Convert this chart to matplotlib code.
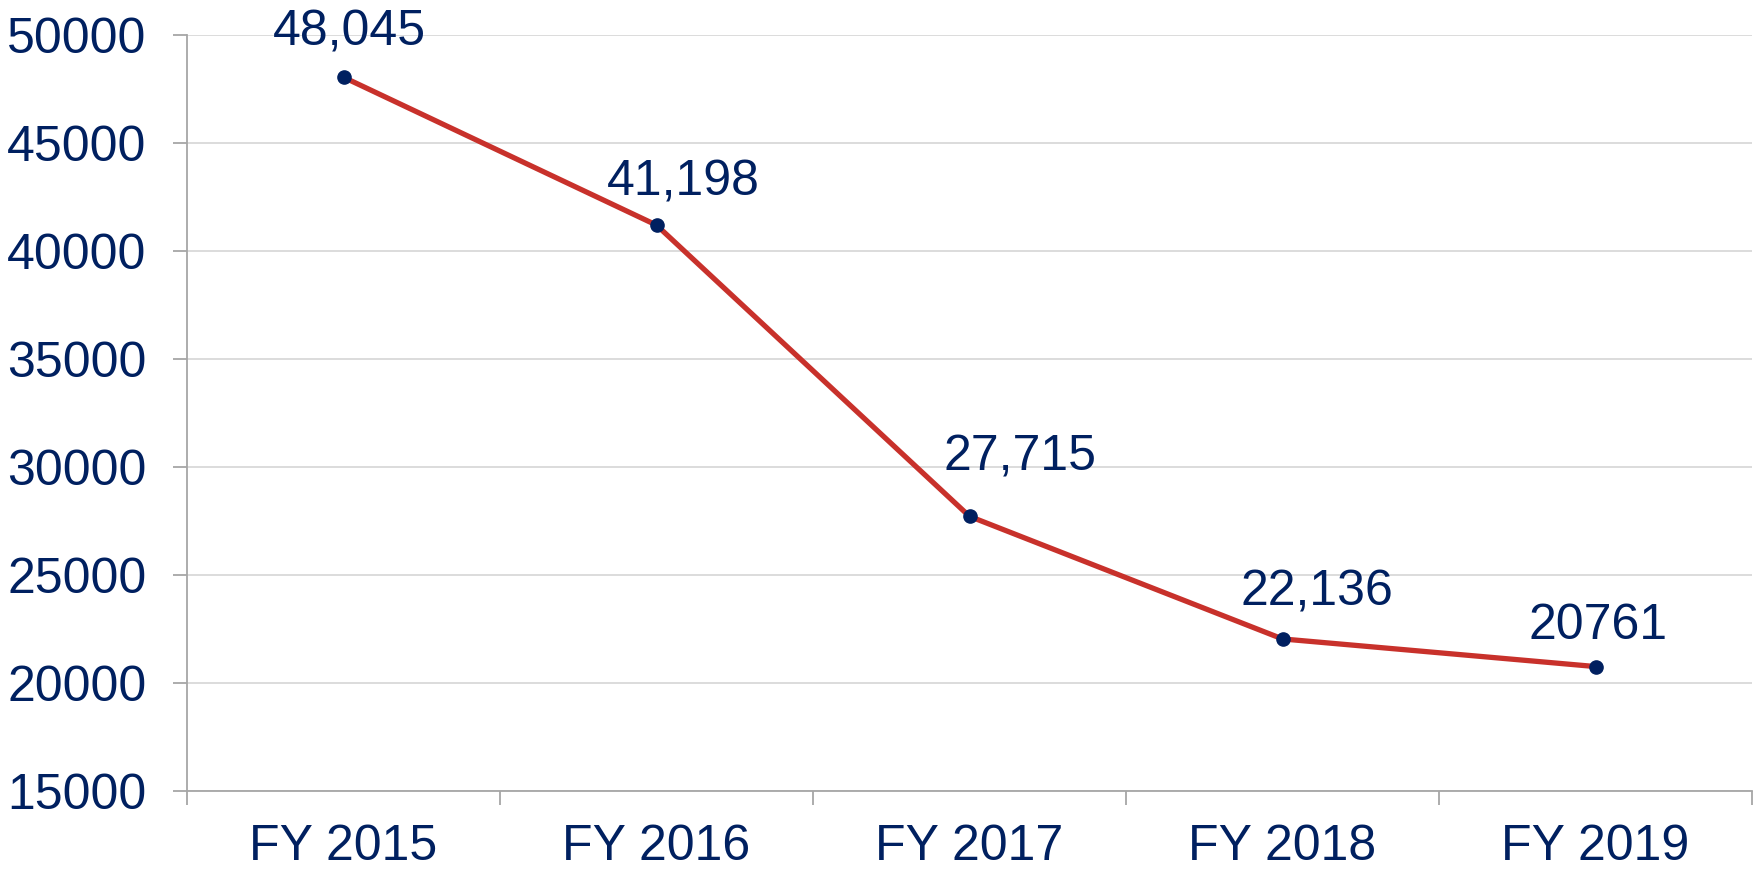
import matplotlib
matplotlib.use('Agg')
import matplotlib.pyplot as plt
import numpy as np

# Data
years = ['FY 2015', 'FY 2016', 'FY 2017', 'FY 2018', 'FY 2019']
values = [48045, 41198, 27715, 22040, 20761]
value_labels = ['48,045', '41,198', '27,715', '22,136', '20761']

# label offsets (points) relative to each marker
label_dx = [4, 19, 36, 25, 2]
label_dy = [23, 21, 33, 24, 20]

navy = '#002060'
red = '#C8312B'
axis_grey = '#A6A6A6'
grid_grey = '#D9D9D9'
fsize = 36

plt.rcParams['font.family'] = ['Liberation Sans', 'DejaVu Sans']

fig = plt.figure(figsize=(17.58, 8.69), dpi=100)
ax = fig.add_axes([187 / 1758, 78 / 869, 1565 / 1758, 756 / 869])

x = np.arange(len(years))
ax.plot(x, values, color=red, linewidth=3.8, zorder=3)
ax.plot(x, values, 'o', color=navy, markersize=9.5, zorder=4)

for xi, v, lab, dx, dy in zip(x, values, value_labels, label_dx, label_dy):
    ax.annotate(lab, (xi, v), xytext=(dx, dy), textcoords='offset points',
                ha='center', va='baseline', fontsize=fsize, color=navy,
                annotation_clip=False)

ax.set_xlim(-0.5, len(years) - 0.5)
ax.set_ylim(15000, 50000)
ax.set_yticks(np.arange(15000, 50001, 5000))

# category boundaries as major ticks, names on minor ticks
ax.set_xticks(np.arange(-0.5, len(years), 1.0))
ax.set_xticklabels([])
ax.set_xticks(x, minor=True)
ax.set_xticklabels(years, minor=True)

ax.tick_params(axis='x', which='major', length=10, width=1.3, color=axis_grey)
ax.tick_params(axis='x', which='minor', length=0, pad=24, labelsize=fsize, labelcolor=navy)
ax.tick_params(axis='y', length=10, width=1.3, color=axis_grey, pad=19,
               labelsize=fsize, labelcolor=navy)

ax.grid(axis='y', color=grid_grey, linewidth=1.3, zorder=0)
ax.set_axisbelow(True)
for side in ['top', 'right']:
    ax.spines[side].set_visible(False)
for side in ['left', 'bottom']:
    ax.spines[side].set_color(axis_grey)
    ax.spines[side].set_linewidth(1.3)

fig.savefig('out.png', dpi=100, facecolor='white')
